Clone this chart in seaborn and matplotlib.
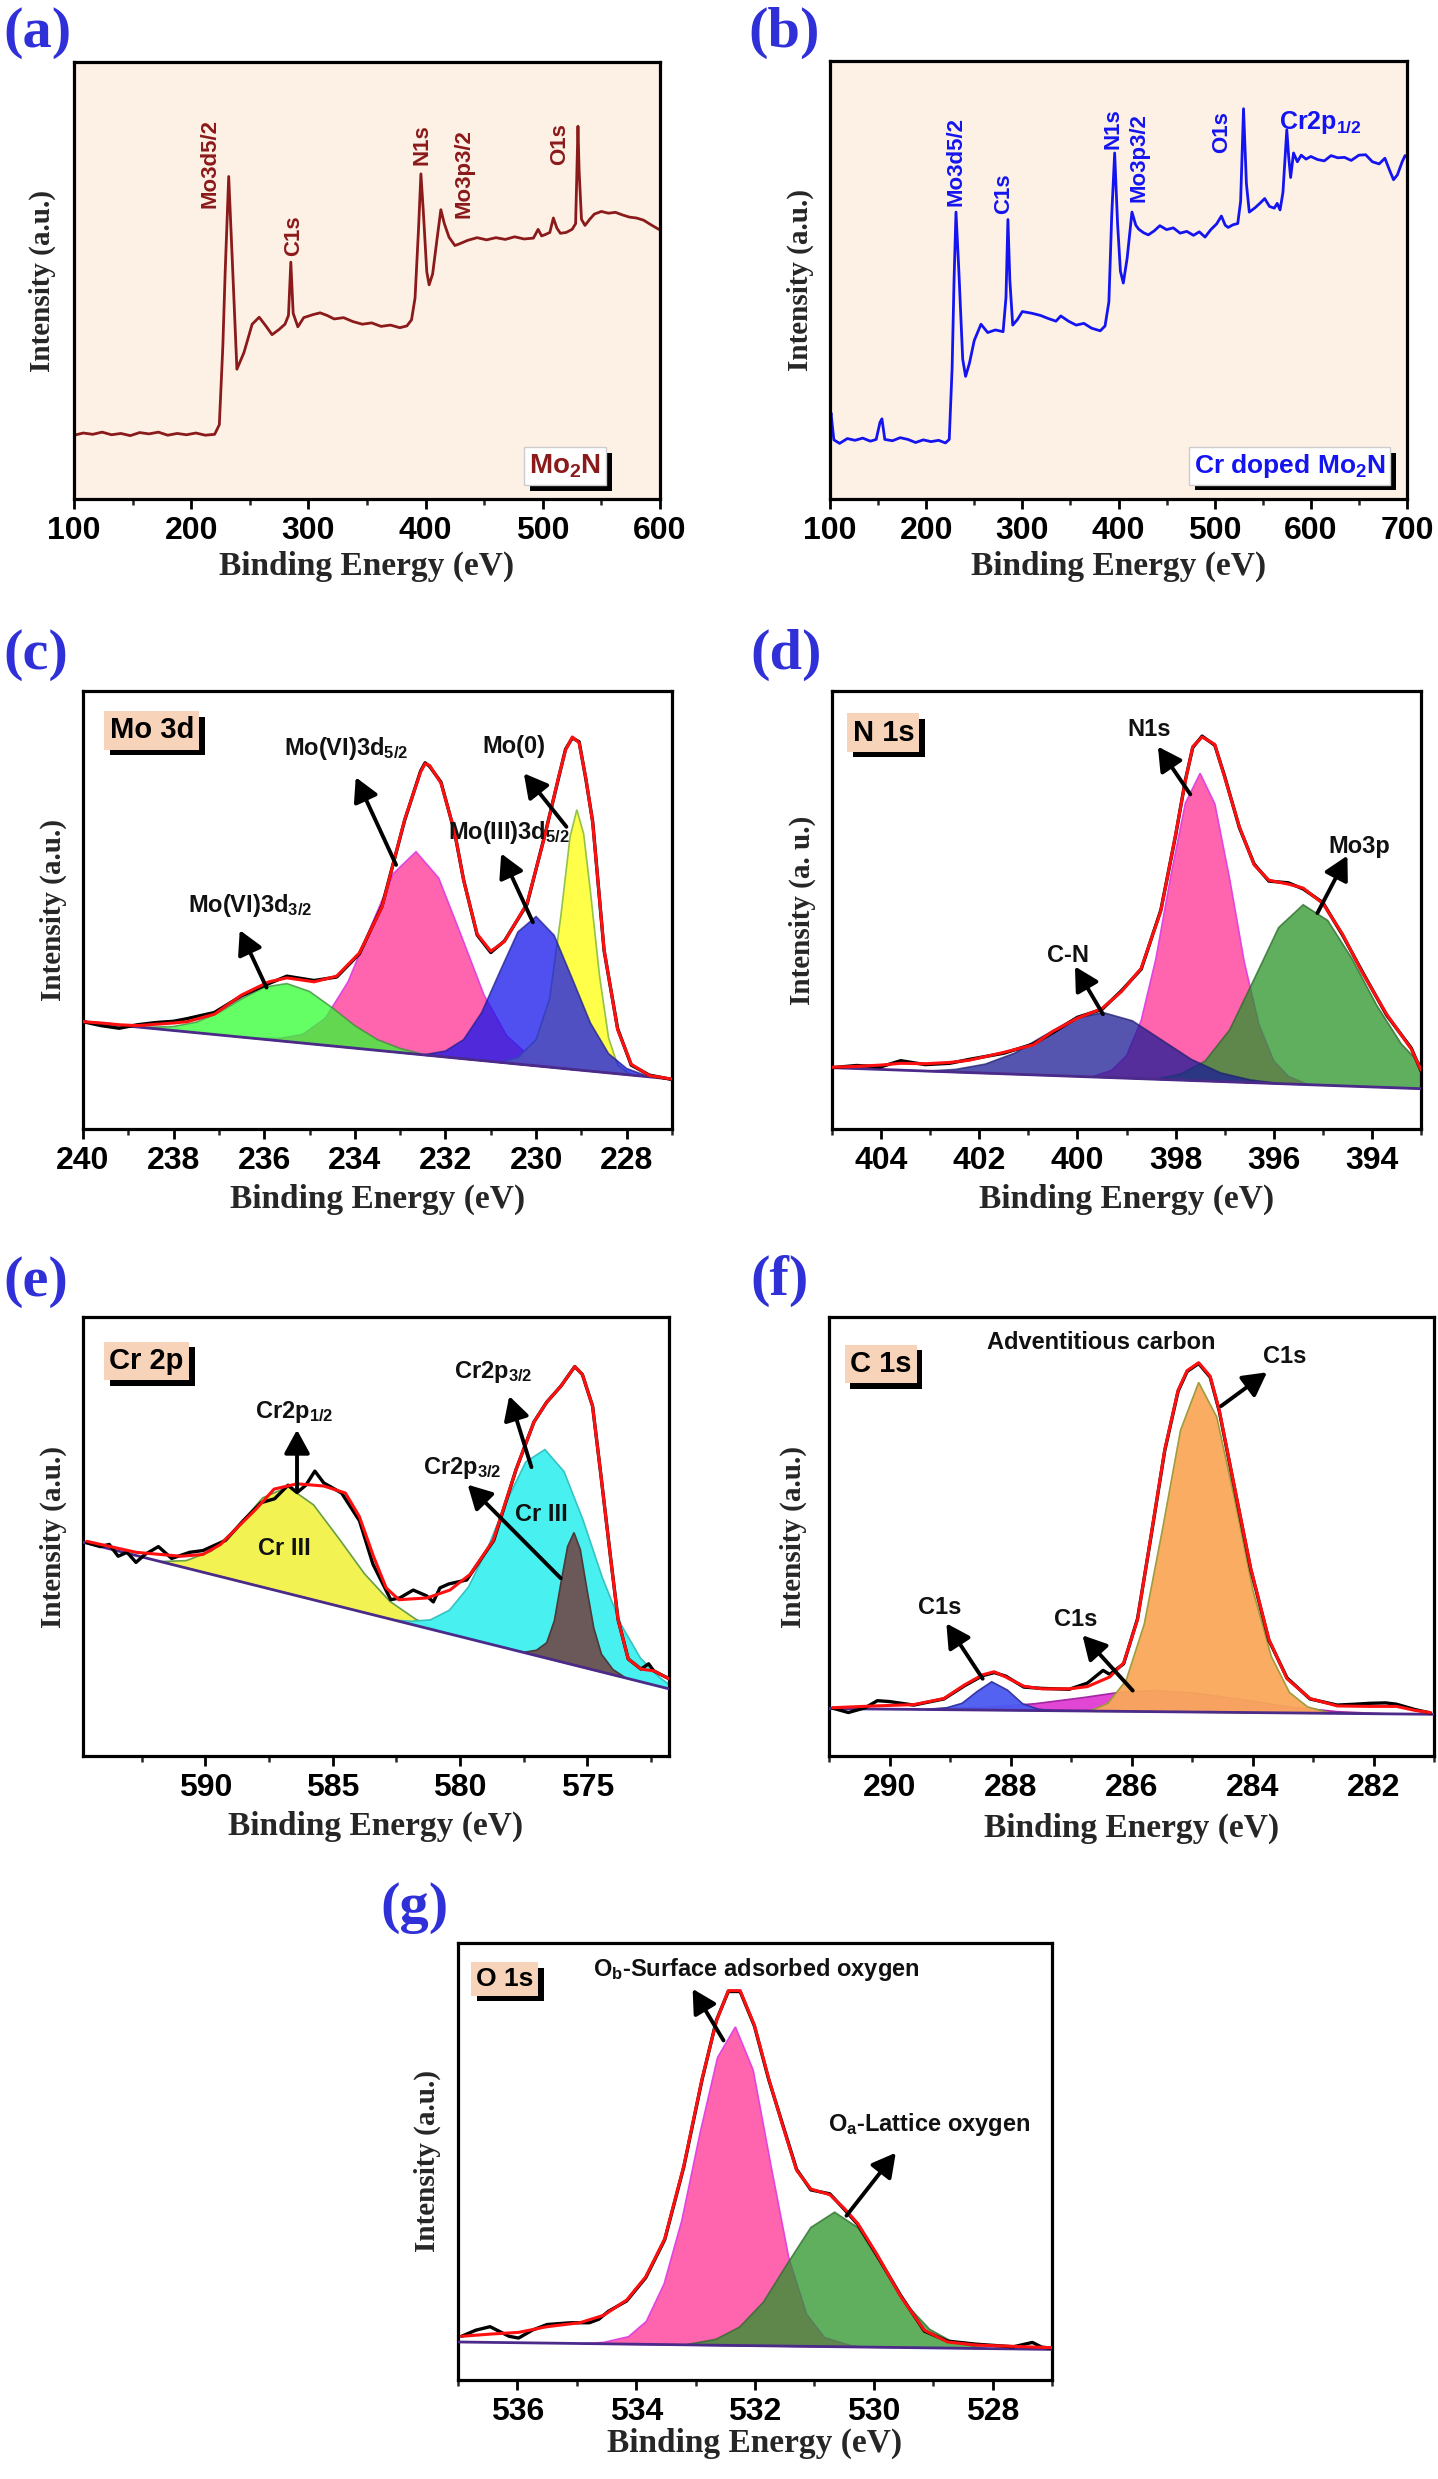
import numpy as np
import pandas as pd
import seaborn as sns
import matplotlib.pyplot as plt
import matplotlib.patheffects as pe
from matplotlib.ticker import MultipleLocator

# ---------------- survey spectra (a) Mo2N, (b) Cr doped Mo2N ----------------
a_be = [100, 108, 116, 124, 132, 140, 148, 156, 164, 172,
        180, 188, 196, 204, 212, 220, 224, 227, 229, 232,
        235, 239, 245, 252, 258, 264, 269, 275, 280, 283,
        285, 287, 291, 296, 304, 310, 316, 322, 330, 338,
        346, 354, 362, 370, 378, 384, 388, 391, 394, 396,
        398, 401, 403, 406, 410, 413, 416, 420, 425, 429,
        436, 444, 452, 460, 468, 476, 484, 492, 496, 499,
        502, 506, 509, 512, 515, 520, 525, 528, 529, 530,
        531, 533, 536, 540, 544, 550, 556, 562, 568, 574,
        580, 586, 592, 599]
a_int = [14.6, 15.1, 14.8, 15.3, 14.7, 15.0, 14.5, 15.2, 14.9, 15.3,
         14.6, 15.0, 14.7, 15.1, 14.6, 14.8, 17.0, 35.0, 52.0, 73.8,
         55.0, 29.7, 33.5, 40.0, 41.6, 39.5, 37.6, 38.8, 40.0, 42.0,
         54.2, 42.5, 39.4, 41.5, 42.2, 42.6, 42.0, 41.2, 41.5, 40.6,
         40.0, 40.3, 39.5, 39.8, 39.2, 39.6, 41.0, 46.0, 62.0, 74.4,
         66.0, 52.0, 49.0, 51.5, 60.0, 66.2, 63.0, 59.9, 58.0, 58.4,
         59.2, 59.8, 59.3, 59.8, 59.4, 60.0, 59.5, 59.7, 61.7, 60.2,
         60.5, 61.0, 64.3, 62.0, 60.8, 61.0, 61.7, 63.0, 74.0, 85.3,
         75.0, 64.0, 62.6, 64.0, 65.2, 65.8, 65.4, 65.6, 65.0, 64.5,
         64.3, 63.8, 62.8, 61.7]
a_peaks = ['Mo3d5/2', 'C1s', 'N1s', 'Mo3p3/2', 'O1s']
a_peak_be = [216, 287, 397, 433, 514]
a_peak_y = [66.5, 55.5, 76.5, 64.3, 76.5]

b_be = [100, 101, 104, 110, 118, 126, 134, 142, 148, 152,
        154, 157, 165, 173, 181, 189, 197, 205, 213, 220,
        224, 227, 229, 231, 234, 238, 241, 245, 250, 257,
        264, 272, 280, 283, 285, 287, 290, 295, 300, 310,
        319, 327, 335, 340, 348, 356, 364, 372, 381, 386,
        390, 393, 396, 399, 402, 405, 409, 414, 418, 421,
        426, 431, 437, 443, 450, 457, 464, 471, 478, 484,
        490, 496, 502, 507, 511, 514, 519, 524, 527, 530,
        533, 536, 542, 547, 552, 557, 562, 565, 568, 571,
        575, 577, 579, 582, 586, 590, 595, 600, 607, 614,
        621, 628, 635, 642, 650, 657, 664, 671, 677, 682,
        686, 690, 695, 698, 700]
b_int = [17.0, 19.7, 13.5, 12.7, 13.8, 13.4, 13.9, 13.2, 13.6, 17.5,
         18.3, 13.6, 13.3, 14.0, 13.6, 12.9, 13.5, 13.1, 13.4, 12.8,
         13.6, 30.0, 50.0, 65.5, 52.0, 31.9, 28.0, 31.0, 36.2, 39.9,
         38.0, 38.6, 38.2, 46.0, 63.8, 50.0, 39.7, 41.0, 42.8, 42.4,
         41.9, 41.2, 40.6, 41.8, 40.6, 39.7, 40.1, 39.0, 38.4, 39.5,
         45.0, 65.0, 79.0, 63.0, 52.0, 49.3, 55.0, 65.5, 62.5, 61.6,
         60.8, 60.3, 61.2, 62.4, 61.5, 61.9, 60.7, 61.1, 60.2, 61.0,
         59.8, 61.5, 62.8, 64.6, 62.5, 62.0, 62.6, 62.9, 68.0, 89.1,
         72.0, 65.5, 66.5, 67.5, 68.6, 66.8, 66.4, 67.5, 66.0, 70.0,
         84.3, 78.0, 73.4, 79.0, 77.0, 78.5, 77.6, 78.2, 77.5, 77.2,
         78.4, 77.9, 78.0, 77.3, 78.5, 78.6, 77.0, 76.5, 77.8, 75.0,
         72.9, 74.0, 77.0, 78.4, 78.0]
b_peaks = ['Mo3d5/2', 'C1s', 'N1s', 'Mo3p3/2', 'O1s']
b_peak_be = [231, 281, 394, 421, 507]
b_peak_y = [66.8, 65.0, 79.9, 67.7, 79.0]

# ---------------- (c) Mo 3d ----------------
c_be = [240.0, 239.6, 239.2, 238.8, 238.4, 238.0, 237.7, 237.1, 236.5, 235.9,
        235.5, 234.9, 234.4, 233.9, 233.4, 232.9, 232.55, 232.45, 232.35, 232.1,
        231.8, 231.6, 231.3, 231.0, 230.7, 230.2, 229.8, 229.5, 229.35, 229.2,
        229.05, 228.9, 228.75, 228.5, 228.2, 227.9, 227.5, 227.0]
c_env = [24.5, 24.2, 23.8, 23.6, 23.9, 24.2, 24.5, 26.2, 30.6, 33.6,
         34.5, 33.6, 34.9, 40.2, 50.7, 70.7, 81.5, 83.4, 83.0, 79.0,
         68.0, 56.8, 44.5, 40.6, 42.8, 51.5, 67.2, 80.5, 86.5, 89.5,
         88.2, 80.0, 69.9, 41.0, 22.7, 14.8, 12.2, 11.4]
c_raw = [24.5, 23.6, 23.0, 23.8, 24.3, 24.6, 25.2, 26.6, 30.4, 33.2,
         34.9, 33.9, 34.7, 40.0, 50.9, 70.5, 81.7, 83.6, 82.8, 79.2,
         67.8, 56.9, 44.3, 40.3, 42.9, 51.3, 67.4, 80.3, 86.7, 89.3,
         88.4, 79.8, 70.1, 40.8, 22.9, 14.6, 12.3, 11.3]
c_bg_be = [240, 227]
c_bg = [24.5, 11.4]
c_green_be = [238.7, 238.0, 237.5, 237.0, 236.5, 236.0, 235.5, 235.0, 234.5, 234.0, 233.5, 233.0, 232.4]
c_green = [23.2, 23.4, 24.4, 26.6, 29.7, 32.4, 33.2, 31.4, 27.7, 23.6, 20.4, 18.4, 16.8]
c_pink_be = [236.2, 235.65, 235.15, 234.65, 234.15, 233.65, 233.15, 232.65, 232.15, 231.65, 231.15, 230.65, 230.15, 229.65, 229.1]
c_pink = [20.7, 20.7, 21.6, 25.3, 33.6, 46.1, 58.3, 63.3, 57.3, 44.1, 30.6, 21.3, 16.6, 14.7, 13.5]
c_blue_be = [232.5, 232.0, 231.6, 231.2, 230.8, 230.4, 230.0, 229.6, 229.2, 228.8, 228.4, 228.0, 227.5]
c_blue = [16.9, 17.8, 20.4, 26.6, 35.9, 45.0, 48.5, 44.2, 34.3, 24.2, 17.2, 13.8, 11.9]
c_yellow_be = [230.8, 230.4, 230.0, 229.7, 229.45, 229.25, 229.1, 228.95, 228.8, 228.6, 228.4, 228.2, 227.9]
c_yellow = [15.2, 16.3, 20.4, 29.8, 48.9, 66.7, 72.9, 67.4, 54.2, 35.0, 20.8, 14.6, 12.3]

# ---------------- (d) N 1s ----------------
d_be = [405.0, 404.5, 404.0, 403.6, 403.1, 402.6, 402.2, 401.5, 400.9, 400.5,
        400.0, 399.5, 399.1, 398.7, 398.3, 398.0, 397.8, 397.65, 397.46, 397.2,
        397.0, 396.7, 396.4, 396.1, 395.7, 395.4, 395.0, 394.6, 394.2, 393.7,
        393.2, 393.0]
d_env = [14.1, 14.3, 14.6, 15.0, 14.9, 15.2, 15.7, 17.5, 19.2, 22.3,
         25.3, 27.5, 31.4, 36.7, 49.8, 67.2, 79.5, 87.3, 89.5, 87.8,
         80.3, 69.0, 60.3, 56.8, 55.9, 55.0, 51.5, 44.5, 35.8, 26.2,
         18.3, 13.5]
d_raw = [14.0, 14.5, 14.2, 15.6, 14.7, 15.0, 15.9, 17.3, 19.4, 22.0,
         25.5, 27.3, 31.6, 36.5, 50.0, 67.0, 79.7, 87.1, 89.7, 87.6,
         80.5, 68.8, 60.5, 56.6, 56.2, 54.8, 51.7, 44.3, 36.0, 26.0,
         18.5, 13.3]
d_bg_be = [405, 393]
d_bg = [14.0, 9.2]
d_blue_be = [403.1, 402.48, 401.88, 401.28, 400.68, 400.08, 399.48, 398.88, 398.28, 397.68, 397.08, 396.48, 395.9]
d_blue = [13.2, 13.6, 14.8, 17.3, 21.3, 25.1, 26.6, 24.7, 20.3, 15.9, 12.8, 11.2, 10.4]
d_pink_be = [399.7, 399.3, 399.0, 398.7, 398.4, 398.1, 397.8, 397.5, 397.2, 396.9, 396.6, 396.3, 396.0, 395.7, 395.3]
d_pink = [11.9, 13.4, 16.7, 24.8, 38.9, 57.6, 74.4, 81.2, 74.2, 57.2, 38.1, 23.8, 15.5, 12.0, 10.1]
d_green_be = [398.4, 397.9, 397.4, 396.9, 396.4, 395.9, 395.4, 394.9, 394.4, 393.9, 393.4, 393.0, 393.0]
d_green = [11.4, 12.5, 15.5, 22.6, 34.2, 46.0, 51.2, 47.6, 38.8, 28.2, 19.4, 14.7, 9.2]

# ---------------- (e) Cr 2p ----------------
e_be = [594.65, 592.72, 590.96, 590.1, 589.4, 588.7, 588.0, 587.3, 586.4, 585.35,
        584.5, 583.95, 583.4, 582.9, 582.4, 581.3, 580.4, 579.6, 578.7, 577.8,
        577.1, 576.6, 576.05, 575.5, 575.2, 574.8, 574.5, 574.1, 573.8, 573.4,
        572.9, 572.4, 571.8]
e_env = [48.9, 46.4, 45.5, 45.9, 48.2, 52.3, 56.3, 60.8, 62.0, 61.5,
         59.9, 54.5, 45.5, 38.3, 35.6, 36.0, 37.8, 41.4, 49.1, 65.3,
         76.1, 80.6, 84.2, 88.7, 86.9, 79.7, 65.3, 45.5, 31.1, 22.1,
         19.8, 19.4, 17.6]
e_raw_be = [594.65, 594.12, 593.77, 593.42, 593.07, 592.72, 592.37, 591.84, 591.32, 590.61,
            590.09, 589.21, 588.51, 587.81, 587.28, 586.75, 586.4, 586.05, 585.7, 585.35,
            584.65, 583.95, 583.42, 582.72, 582.37, 581.84, 581.32, 581.05, 580.79, 580.44,
            579.74, 578.68, 577.8, 577.1, 576.6, 576.05, 575.5, 575.2, 574.8, 574.5,
            574.1, 573.8, 573.4, 572.9, 572.6, 572.4, 571.8]
e_raw = [48.6, 47.7, 48.2, 45.5, 46.4, 44.1, 45.9, 47.7, 45.0, 46.4,
         46.8, 49.1, 53.6, 57.7, 58.6, 61.7, 60.0, 61.7, 64.9, 62.2,
         59.9, 53.6, 43.7, 35.6, 36.0, 37.8, 36.5, 35.1, 38.3, 39.2,
         40.1, 49.1, 65.3, 76.1, 80.6, 84.2, 88.7, 86.9, 79.7, 65.3,
         45.5, 31.1, 22.1, 19.8, 21.0, 19.4, 17.6]
e_bg_be = [594.8, 571.8]
e_bg = [48.7, 15.3]
e_yellow_be = [591.75, 590.75, 589.75, 588.75, 587.75, 586.75, 585.75, 584.75, 583.75, 582.75, 581.75, 580.75]
e_yellow = [44.3, 44.5, 46.7, 52.1, 58.8, 61.3, 57.2, 49.5, 41.5, 35.2, 31.2, 28.3]
e_cyan_be = [582.5, 581.92, 581.17, 580.42, 579.67, 578.92, 578.17, 577.42, 576.67, 575.92,
             575.17, 574.42, 573.67, 572.92, 572.17, 571.8, 571.8]
e_cyan = [30.9, 30.7, 31.0, 33.2, 38.5, 47.3, 58.1, 67.0, 69.8, 64.8,
          53.7, 40.7, 29.8, 22.3, 17.9, 16.3, 15.3]
e_brown_be = [577.5, 577.0, 576.6, 576.3, 576.03, 575.78, 575.53, 575.28, 575.03, 574.75, 574.45, 574.0, 573.5]
e_brown = [23.6, 24.1, 25.8, 30.8, 39.8, 47.7, 50.9, 47.0, 38.3, 29.1, 23.2, 19.7, 17.8]

# ---------------- (f) C 1s ----------------
f_be = [290.94, 290.26, 289.6, 289.1, 288.76, 288.46, 288.27, 288.08, 287.78, 287.48,
        287.03, 286.73, 286.36, 286.13, 285.9, 285.68, 285.45, 285.23, 285.08, 284.89,
        284.7, 284.55, 284.33, 284.03, 283.73, 283.43, 283.05, 282.6, 282.07, 281.62,
        281.32, 281.06]
f_env = [11.0, 11.4, 11.7, 13.1, 16.2, 18.5, 19.2, 18.0, 15.9, 15.3,
         15.3, 15.8, 18.0, 21.2, 31.1, 50.0, 69.8, 83.3, 87.8, 89.6,
         86.5, 78.8, 63.5, 42.8, 26.6, 17.6, 13.1, 11.4, 11.3, 11.3,
         10.4, 9.9]
f_raw_be = [290.94, 290.68, 290.4, 290.2, 290.0, 289.6, 289.1, 288.76, 288.46, 288.27,
            288.08, 287.78, 287.48, 287.03, 286.73, 286.47, 286.36, 286.13, 285.9, 285.68,
            285.45, 285.23, 285.08, 284.89, 284.7, 284.55, 284.33, 284.03, 283.73, 283.43,
            283.05, 282.6, 282.3, 282.07, 281.8, 281.62, 281.32, 281.06]
f_raw = [10.9, 9.9, 11.0, 12.6, 12.4, 11.6, 13.0, 16.0, 18.3, 19.0,
         18.2, 15.7, 15.4, 15.2, 16.6, 19.5, 18.6, 21.0, 31.3, 49.8,
         69.6, 83.1, 87.6, 89.4, 86.3, 78.6, 63.3, 42.6, 26.4, 17.8,
         13.0, 11.6, 11.8, 12.0, 12.1, 11.8, 10.6, 9.8]
f_bg_be = [291, 281]
f_bg = [10.8, 9.5]
f_blue_be = [289.4, 289.05, 288.8, 288.55, 288.31, 288.05, 287.8, 287.55, 287.3]
f_blue = [10.6, 11.0, 12.0, 14.7, 16.9, 15.0, 11.9, 10.7, 10.3]
f_mag_be = [289.2, 288.4, 287.6, 286.8, 286.2, 285.6, 285.0, 284.2, 283.4, 282.6, 281.8]
f_mag = [10.7, 11.1, 11.9, 13.3, 14.5, 14.9, 14.4, 12.9, 11.2, 10.1, 9.6]
f_orange_be = [286.7, 286.39, 286.09, 285.79, 285.49, 285.19, 284.89, 284.59, 284.29, 283.99, 283.69, 283.39, 283.09, 282.7]
f_orange = [10.2, 12.0, 17.2, 30.0, 51.5, 74.2, 85.1, 77.2, 58.1, 37.6, 22.7, 14.5, 11.2, 9.7]

# ---------------- (g) O 1s ----------------
g_be = [536.94, 536.46, 535.98, 535.5, 534.95, 534.55, 534.16, 533.84, 533.52, 533.2,
        532.89, 532.65, 532.45, 532.25, 532.01, 531.77, 531.54, 531.3, 531.06, 530.74,
        530.5, 530.27, 529.95, 529.55, 529.15, 528.76, 528.28, 527.65, 527.01]
g_env = [10.0, 10.5, 10.9, 12.2, 13.1, 14.8, 18.3, 23.6, 32.3, 48.9,
         69.0, 82.1, 89.1, 89.1, 81.2, 69.0, 58.5, 48.0, 43.7, 42.4,
         39.3, 35.8, 28.8, 19.2, 11.4, 8.7, 8.0, 7.7, 7.4]
g_raw_be = [536.94, 536.7, 536.46, 536.14, 535.98, 535.75, 535.5, 535.1, 534.79, 534.63,
            534.47, 534.16, 533.84, 533.52, 533.2, 532.89, 532.65, 532.45, 532.25, 532.01,
            531.77, 531.54, 531.3, 531.06, 530.74, 530.5, 530.27, 529.95, 529.55, 529.15,
            528.76, 528.28, 527.65, 527.33, 527.17, 527.01]
g_raw = [10.0, 11.4, 12.2, 10.0, 9.6, 11.4, 12.7, 13.1, 13.1, 13.9,
         15.7, 18.1, 23.4, 32.1, 48.7, 68.8, 82.3, 88.9, 88.9, 81.0,
         68.8, 58.7, 48.2, 43.5, 42.6, 39.1, 35.6, 28.6, 19.4, 11.2,
         8.9, 8.2, 7.6, 8.6, 7.5, 7.3]
g_bg_be = [537, 527]
g_bg = [8.7, 7.0]
g_pink_be = [534.9, 534.55, 534.13, 533.83, 533.53, 533.23, 532.93, 532.63, 532.33, 532.03, 531.73, 531.43, 531.13, 530.83, 530.4, 530.2]
g_pink = [8.3, 8.6, 9.9, 13.4, 22.0, 36.6, 56.2, 73.8, 80.8, 70.9, 49.0, 27.9, 15.0, 9.7, 7.9, 7.5]
g_green_be = [533.2, 532.66, 532.26, 531.86, 531.46, 531.06, 530.66, 530.26, 529.86, 529.46, 529.06, 528.66, 528.1]
g_green = [8.0, 9.3, 12.1, 17.8, 26.5, 34.9, 38.4, 34.8, 26.2, 17.4, 11.6, 8.6, 7.2]

# ---------------- style ----------------
sns.set_style('white')
plt.rcParams['font.family'] = ['Liberation Sans', 'DejaVu Sans']
plt.rcParams['font.weight'] = 'bold'
plt.rcParams['mathtext.fontset'] = 'custom'
plt.rcParams['mathtext.rm'] = 'Liberation Sans:bold'
plt.rcParams['mathtext.bf'] = 'Liberation Sans:bold'
plt.rcParams['mathtext.default'] = 'bf'

SERIF = ['Liberation Serif', 'DejaVu Serif']
W, H = 1438, 2479
fig = plt.figure(figsize=(W / 100, H / 100), dpi=100)


def make_ax(l, t, r, b):
    return fig.add_axes([l / W, 1 - b / H, (r - l) / W, (b - t) / H])


def style_ax(ax, xlim, major, minor, ylab, ylab_x, xlab_y, face='white'):
    ax.set_xlim(*xlim)
    ax.set_ylim(0, 100)
    ax.set_facecolor(face)
    ax.xaxis.set_major_locator(MultipleLocator(major))
    ax.xaxis.set_minor_locator(MultipleLocator(minor))
    ax.set_yticks([])
    ax.tick_params(axis='x', which='major', direction='out', length=7, width=2,
                   labelsize=23, pad=5, bottom=True, colors='black')
    ax.tick_params(axis='x', which='minor', direction='out', length=4, width=1.8, bottom=True)
    for s in ax.spines.values():
        s.set_linewidth(2.3)
        s.set_color('black')
    ax.set_xlabel('Binding Energy (eV)', family=SERIF, weight='bold', fontsize=24)
    ax.set_ylabel(ylab, family=SERIF, weight='bold', fontsize=21)
    ax.xaxis.set_label_coords(0.5, xlab_y)
    ax.yaxis.set_label_coords(ylab_x, 0.5)


def tag(ax, x, y, s, fc, ec, color='black', size=20, ha='left'):
    t = ax.text(x, y, s, transform=ax.transAxes, fontsize=size, color=color, ha=ha, va='center',
                zorder=10, bbox=dict(boxstyle='square,pad=0.18', fc=fc, ec=ec, lw=1))
    t.get_bbox_patch().set_path_effects([pe.withSimplePatchShadow(offset=(4, -4), shadow_rgbFace='black', alpha=1.0)])


def arrow(ax, tail, head):
    ax.annotate('', xy=head, xytext=tail, zorder=9,
                arrowprops=dict(arrowstyle='-|>,head_length=0.55,head_width=0.3', color='black',
                                lw=2.8, mutation_scale=26, shrinkA=0, shrinkB=0))


def note(ax, x, y, s, size=17):
    ax.text(x, y, s, ha='center', va='center', fontsize=size, color='#111111', zorder=9)


def fitted(ax, env_be, env, raw_be, raw, bg_be, bg, comps):
    for xb, yb, fc, ec, al in comps:
        ax.fill(xb, yb, facecolor=fc, edgecolor=ec, lw=1.2, alpha=al, zorder=2)
    sns.lineplot(x=bg_be, y=bg, ax=ax, color='#4b2a8a', lw=2, zorder=3)
    sns.lineplot(x=raw_be, y=raw, ax=ax, color='black', lw=2.4, sort=False, estimator=None, zorder=4)
    sns.lineplot(x=env_be, y=env, ax=ax, color='#ff1010', lw=2.2, sort=False, estimator=None, zorder=5)


PEACH = '#fdf1e6'
TAGFC = '#f7d4b9'

# (a)
ax = make_ax(74, 62, 660, 499)
sns.lineplot(x=a_be, y=a_int, ax=ax, color='#8b1a1a', lw=2, sort=False, estimator=None)
for s, xe, yb in zip(a_peaks, a_peak_be, a_peak_y):
    ax.text(xe, yb, s, rotation=90, ha='center', va='bottom', fontsize=16, color='#8b1a1a')
style_ax(ax, (100, 600), 100, 50, 'Intensity (a.u.)', -0.031, -0.119, PEACH)
tag(ax, 0.838, 0.075, 'Mo$_2$N', 'white', '#cccccc', color='#8b1a1a', size=20, ha='center')

# (b)
ax = make_ax(830, 61, 1407, 499)
sns.lineplot(x=b_be, y=b_int, ax=ax, color='#1414f0', lw=2, sort=False, estimator=None)
for s, xe, yb in zip(b_peaks, b_peak_be, b_peak_y):
    ax.text(xe, yb, s, rotation=90, ha='center', va='bottom', fontsize=16, color='#1414f0')
ax.text(567, 86, 'Cr2p$_{1/2}$', ha='left', va='center', fontsize=18, color='#1414f0')
style_ax(ax, (100, 700), 100, 50, 'Intensity (a.u.)', -0.028, -0.119, PEACH)
tag(ax, 0.797, 0.075, 'Cr doped Mo$_2$N', 'white', '#cccccc', color='#1414f0', size=19, ha='center')

# (c)
ax = make_ax(83, 691, 672, 1129)
fitted(ax, c_be, c_env, c_be, c_raw, c_bg_be, c_bg, [
    (c_pink_be, c_pink, '#ff5cab', '#e040e0', 0.95),
    (c_green_be, c_green, '#30ff30', '#3c8c3c', 0.75),
    (c_yellow_be, c_yellow, '#ffff40', '#8cc040', 0.95),
    (c_blue_be, c_blue, '#1616eb', '#202090', 0.75),
])
style_ax(ax, (240, 227), 2, 1, 'Intensity (a.u.)', -0.027, -0.125)
tag(ax, 0.045, 0.91, 'Mo 3d', TAGFC, 'none', size=21)
note(ax, 236.3, 51.1, 'Mo(VI)3d$_{3/2}$')
arrow(ax, (235.95, 32.3), (236.54, 45.4))
note(ax, 234.2, 86.9, 'Mo(VI)3d$_{5/2}$')
arrow(ax, (233.09, 60.3), (233.98, 80.3))
note(ax, 230.5, 87.3, 'Mo(0)')
arrow(ax, (229.33, 69.0), (230.27, 81.2))
note(ax, 230.6, 67.7, 'Mo(III)3d$_{5/2}$')
arrow(ax, (230.07, 47.2), (230.77, 62.9))

# (d)
ax = make_ax(832, 691, 1421, 1129)
fitted(ax, d_be, d_env, d_be, d_raw, d_bg_be, d_bg, [
    (d_pink_be, d_pink, '#ff5cab', '#e040e0', 0.95),
    (d_green_be, d_green, '#2a942a', '#2a6a2a', 0.75),
    (d_blue_be, d_blue, '#1c1c96', '#202070', 0.75),
])
style_ax(ax, (405, 393), 2, 1, 'Intensity (a. u.)', -0.027, -0.125)
tag(ax, 0.035, 0.905, 'N 1s', TAGFC, 'none', size=21)
note(ax, 398.54, 91.3, 'N1s')
arrow(ax, (397.7, 76.4), (398.36, 87.3))
note(ax, 394.26, 64.6, 'Mo3p')
arrow(ax, (395.11, 49.3), (394.5, 62.4))
note(ax, 400.19, 39.7, 'C-N')
arrow(ax, (399.48, 26.2), (400.05, 37.1))

# (e)
ax = make_ax(83, 1317, 669, 1756)
fitted(ax, e_be, e_env, e_raw_be, e_raw, e_bg_be, e_bg, [
    (e_yellow_be, e_yellow, '#f2f24a', '#5f9a40', 0.95),
    (e_cyan_be, e_cyan, '#3ff0f0', '#30c0c0', 0.95),
    (e_brown_be, e_brown, '#6b5858', '#4a3a3a', 1.0),
])
style_ax(ax, (594.8, 571.8), 5, 2.5, 'Intensity (a.u.)', -0.027, -0.125)
tag(ax, 0.045, 0.90, 'Cr 2p', TAGFC, 'none', size=21)
note(ax, 586.5, 78.4, 'Cr2p$_{1/2}$')
arrow(ax, (586.4, 60.8), (586.4, 74.3))
note(ax, 586.9, 47.3, 'Cr III')
note(ax, 578.7, 87.4, 'Cr2p$_{3/2}$')
arrow(ax, (577.2, 65.8), (578.07, 82.0))
note(ax, 579.9, 65.6, 'Cr2p$_{3/2}$')
arrow(ax, (576.05, 40.5), (579.7, 61.8))
note(ax, 576.8, 55.0, 'Cr III')

# (f)
ax = make_ax(829, 1317, 1434, 1756)
fitted(ax, f_be, f_env, f_raw_be, f_raw, f_bg_be, f_bg, [
    (f_mag_be, f_mag, '#e03cd2', '#a020a0', 0.95),
    (f_blue_be, f_blue, '#4a5af0', '#3030a0', 0.95),
    (f_orange_be, f_orange, '#f9a85a', '#9a9a3a', 0.95),
])
style_ax(ax, (291, 281), 2, 1, 'Intensity (a.u.)', -0.036, -0.13)
tag(ax, 0.035, 0.893, 'C 1s', TAGFC, 'none', size=21)
note(ax, 286.5, 94.1, 'Adventitious carbon')
note(ax, 283.46, 91.0, 'C1s')
arrow(ax, (284.52, 79.7), (283.76, 87.4))
note(ax, 289.17, 33.8, 'C1s')
arrow(ax, (288.46, 17.6), (289.06, 30.2))
note(ax, 286.92, 31.1, 'C1s')
arrow(ax, (285.98, 14.9), (286.81, 27.5))

# (g)
ax = make_ax(458, 1943, 1052, 2380)
fitted(ax, g_be, g_env, g_raw_be, g_raw, g_bg_be, g_bg, [
    (g_pink_be, g_pink, '#ff5cab', '#e040e0', 0.95),
    (g_green_be, g_green, '#2a942a', '#2a6a2a', 0.75),
])
style_ax(ax, (537, 527), 2, 1, 'Intensity (a.u.)', -0.029, -0.11)
tag(ax, 0.03, 0.918, 'O 1s', TAGFC, 'none', size=19)
note(ax, 531.97, 93.9, 'O$_b$-Surface adsorbed oxygen')
arrow(ax, (532.53, 77.7), (533.05, 89.5))
note(ax, 529.07, 58.5, 'O$_a$-Lattice oxygen')
arrow(ax, (530.46, 37.6), (529.63, 52.0))

# panel letters
for s, px, py in [('(a)', 37, 33), ('(b)', 784, 33), ('(c)', 36, 655), ('(d)', 786, 655),
                  ('(e)', 36, 1282), ('(f)', 780, 1281), ('(g)', 415, 1908)]:
    fig.text(px / W, 1 - py / H, s, ha='center', va='center', fontsize=42,
             family=SERIF, weight='bold', color='#3030d8')

fig.savefig('out.png', dpi=100, facecolor='white')
